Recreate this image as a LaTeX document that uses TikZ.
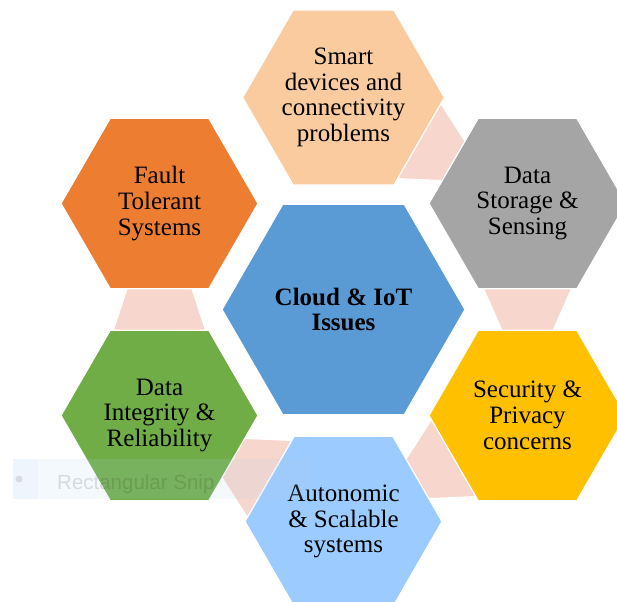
\documentclass[tikz,border=0pt]{standalone}
\usepackage{fontspec}
\setmainfont{Liberation Serif}
\newfontfamily\snipfont{Liberation Sans}
\usepackage{tikz}
\usetikzlibrary{shapes.geometric,calc,backgrounds}

\definecolor{hubblue}{RGB}{91,155,213}
\definecolor{peach}{RGB}{250,203,158}
\definecolor{stonegray}{RGB}{165,165,165}
\definecolor{gold}{RGB}{255,192,0}
\definecolor{skyblue}{RGB}{155,203,255}
\definecolor{leafgreen}{RGB}{112,173,71}
\definecolor{rust}{RGB}{237,125,49}
\definecolor{linkpink}{RGB}{247,215,205}
\definecolor{snipblue}{RGB}{180,210,240}

\tikzset{
  hexa/.style={regular polygon, regular polygon sides=6, minimum size=197pt,
    inner sep=0pt, draw=white, line width=1.2pt, align=center,
    font=\fontsize{25}{25.7}\selectfont},
  hub/.style={hexa, minimum size=243pt,
    font=\fontsize{25}{25.7}\selectfont\bfseries},
  link/.style={fill=linkpink, draw=white, line width=1pt},
}

% tapered band from the side of #1 facing #2 to the side of #2 facing #1
\newcommand{\hexlink}[4]{%
  \draw[link] ($(#1)!84pt!(#2)!#3!90:(#2)$) -- ($(#1)!84pt!(#2)!#3!-90:(#2)$)
    -- ($(#2)!84pt!(#1)!#4!90:(#1)$) -- ($(#2)!84pt!(#1)!#4!-90:(#1)$) -- cycle;}

\begin{document}
\begin{tikzpicture}[x=1pt,y=1pt]
\useasboundingbox (0,0) rectangle (617,601);
\clip (0,0) rectangle (617,601);

\node[hub,fill=hubblue] (hub) at (343.5,291.5) {Cloud \& IoT\\Issues};

\node[hexa,fill=peach] (smart) at (343.5,503.5) {Smart\\devices and\\connectivity\\problems};
\node[hexa,fill=stonegray] (storage) at (527.5,397.5) {Data\\Storage \&\\Sensing};
\node[hexa,fill=gold] (security) at (527.5,185.5) {Security \&\\Privacy\\concerns};
\node[hexa,fill=skyblue] (autonomic) at (343.5,79.5) {Autonomic\\\& Scalable\\systems};
\node[hexa,fill=leafgreen] (integrity) at (159.5,185.5) {Data\\Integrity \&\\Reliability};
\node[hexa,fill=rust] (fault) at (159.5,397.5) {Fault\\Tolerant\\Systems};

% links between neighbouring hexagons
\begin{scope}[on background layer]
\hexlink{smart}{storage}{45pt}{22pt}
\hexlink{storage}{security}{44.5pt}{25pt}
\hexlink{security}{autonomic}{45pt}{22pt}
\hexlink{autonomic}{integrity}{45pt}{22pt}
\hexlink{integrity}{fault}{46.5pt}{32pt}
\end{scope}

% snipping tool tooltip
\fill[snipblue,opacity=0.14] (13,102) rectangle (312,142);
\fill[snipblue,opacity=0.10] (13,102) rectangle (38,142);
\fill[black,opacity=0.10] (19,122) circle (3.5);
\node[anchor=base west,inner sep=0pt,text=black,text opacity=0.12,
  font=\snipfont\fontsize{20.5}{22}\selectfont] (snip) at (57,111) {Rectangular Snip};
\end{tikzpicture}
\end{document}
